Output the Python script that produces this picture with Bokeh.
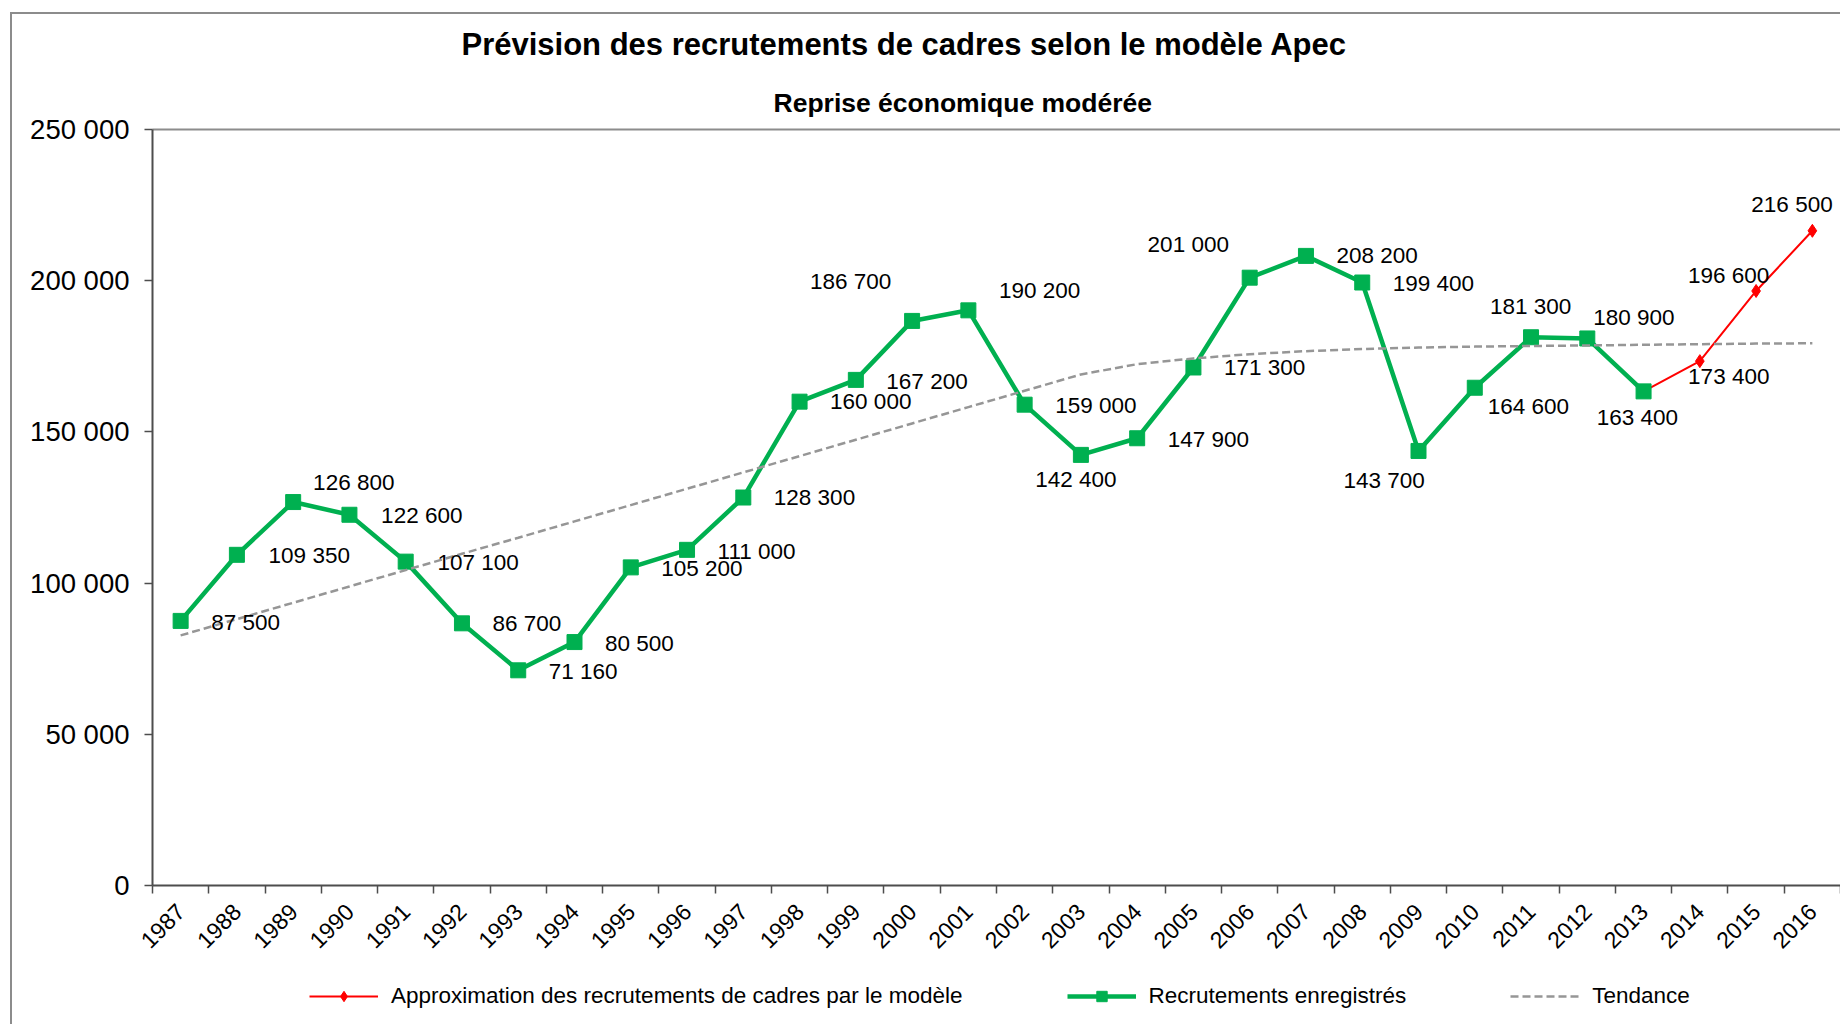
import math
from bokeh.plotting import figure
from bokeh.layouts import column
from bokeh.models import (Range1d, LinearAxis, FixedTicker, CustomJSTickFormatter,
                          Title, Legend, LegendItem, ColumnDataSource)
from bokeh.core.properties import value
from bokeh.embed import file_html
from bokeh.resources import INLINE

# ---------------- data ----------------
years = list(range(1987, 2017))
year_labels = [str(y) for y in years]

recorded_years = list(range(1987, 2014))
recorded = [87500, 109350, 126800, 122600, 107100, 86700, 71160, 80500, 105200,
            111000, 128300, 160000, 167200, 186700, 190200, 159000, 142400, 147900,
            171300, 201000, 208200, 199400, 143700, 164600, 181300, 180900, 163400]

model_years = [2013, 2014, 2015, 2016]
model = [163400, 173400, 196600, 216500]

trend = [82700, 88100, 93500, 98900, 104300, 109700, 115000, 120400, 125800, 131200,
         136600, 142000, 147400, 152800, 158200, 163600, 169000, 172400, 174300, 175700,
         176700, 177400, 177900, 178200, 178400, 178600, 178800, 179000, 179200, 179300]

y_ticks = [0, 50000, 100000, 150000, 200000, 250000]

title_text = "Prévision des recrutements de cadres selon le modèle Apec"
subtitle_text = "Reprise économique modérée"
legend_labels = ["Approximation des recrutements de cadres par le modèle",
                 "Recrutements enregistrés", "Tendance"]

# ---------------- label placement (screen px offsets) ----------------
S = 1.1735
rec_label_off = [(26, 1), (27, 1), (17, -17), (27, 1), (27, 1), (26, 0), (26, 1), (26, 1),
                 (26, 1), (26, 1), (26, 0), (26, 0), (26, 1), (-87, -34), (26, -17), (26, 1),
                 (-39, 21), (26, 1), (26, 0), (-87, -28), (26, 0), (26, 1), (-64, 25),
                 (11, 16), (-35, -26), (5, -18), (-40, 22)]
mod_label_off = [(-10, 13), (-58, -13), (-52, -22)]

FONT = "Liberation Sans"
GREEN = "#00B050"
RED = "#FF0000"
GREY = "#969696"
AXIS = "#4d4d4d"
BORDER = "#8c8c8c"


def fmt(v):
    return f"{v:,}".replace(",", " ")


W = 1840
H_MAIN = 960
H_LEG = 1024 - H_MAIN
LEFT = 152

p = figure(width=W, height=H_MAIN, output_backend="svg", toolbar_location=None,
           x_range=Range1d(-0.5, 29.5), y_range=Range1d(0, 250000),
           min_border_left=LEFT, min_border_right=0, min_border_top=129,
           min_border_bottom=H_MAIN - 885, x_axis_type=None, y_axis_type=None)
p.outline_line_color = None
p.background_fill_color = "white"
p.border_fill_color = None
p.styles = {"box-shadow": f"inset 10px 12px 0 0 white, inset 12px 14px 0 0 {BORDER}",
            "background-color": "white"}

# x axis
xax = LinearAxis(ticker=FixedTicker(ticks=list(range(len(years))),
                                    minor_ticks=[i - 0.5 for i in range(len(years) + 1)]),
                 formatter=CustomJSTickFormatter(args=dict(labels=year_labels),
                                                 code="return labels[Math.round(tick)] || '';"))
xax.axis_line_color = AXIS
xax.axis_line_width = 2
xax.major_tick_line_color = None
xax.major_tick_out = 0
xax.major_tick_in = 0
xax.minor_tick_line_color = AXIS
xax.minor_tick_line_width = 1.5
xax.minor_tick_out = 8
xax.minor_tick_in = 0
xax.major_label_orientation = math.pi / 4
xax.major_label_standoff = 14
xax.major_label_text_font = FONT
xax.major_label_text_font_size = "23px"
xax.major_label_text_color = "black"
p.add_layout(xax, "below")

# top frame line
top = LinearAxis(ticker=FixedTicker(ticks=[]))
top.axis_line_color = BORDER
top.axis_line_width = 2
top.major_tick_line_color = None
top.minor_tick_line_color = None
top.major_label_text_font_size = "0px"
top.major_label_standoff = 0
top.major_tick_out = 0
p.add_layout(top, "above")

# y axis
yax = LinearAxis(ticker=FixedTicker(ticks=y_ticks),
                 formatter=CustomJSTickFormatter(
                     code=r"return Math.round(tick).toString().replace(/\B(?=(\d{3})+(?!\d))/g, ' ');"))
yax.axis_line_color = AXIS
yax.axis_line_width = 2
yax.major_tick_line_color = AXIS
yax.major_tick_line_width = 1.5
yax.major_tick_out = 8
yax.major_tick_in = 0
yax.minor_tick_line_color = None
yax.major_label_standoff = 15
yax.major_label_text_font = FONT
yax.major_label_text_font_size = "27.5px"
yax.major_label_text_color = "black"
p.add_layout(yax, "left")

p.xgrid.visible = False
p.ygrid.visible = False

# series
x_rec = [y - 1987 for y in recorded_years]
x_mod = [y - 1987 for y in model_years]
x_all = [y - 1987 for y in years]

p.line(x_mod, model, line_color=RED, line_width=2)
p.scatter(x_mod, model, marker="diamond", size=13, fill_color=RED, line_color=RED)
p.line(x_rec, recorded, line_color=GREEN, line_width=4.5)
p.scatter(x_rec, recorded, marker="square", size=15, fill_color=GREEN, line_color=GREEN)
p.line(x_all, trend, line_color=GREY, line_width=2.5, line_dash="8 4")

# data labels
lab_x = x_rec + x_mod[1:]
lab_y = recorded + model[1:]
offs = rec_label_off + mod_label_off
src = ColumnDataSource(dict(x=lab_x, y=lab_y, t=[fmt(v) for v in lab_y],
                            dx=[o[0] * S for o in offs], dy=[o[1] * S for o in offs]))
p.text(x="x", y="y", text="t", x_offset="dx", y_offset="dy", source=src,
       text_align="left", text_baseline="middle", text_font=value(FONT),
       text_font_size="22.5px", text_color="black")

# titles (stacked above the frame)
p.add_layout(Title(text=subtitle_text, align="left", offset=621, text_font=FONT,
                   text_font_style="bold", text_font_size="26.5px", text_color="black",
                   standoff=24), "above")
p.add_layout(Title(text=title_text, align="left", offset=309, text_font=FONT,
                   text_font_style="bold", text_font_size="31px", text_color="black",
                   standoff=24), "above")

# legend strip: the same series drawn again (outside its visible range) as legend proxies
lg = figure(width=W, height=H_LEG, output_backend="svg", toolbar_location=None,
            x_range=Range1d(-1000, -999), y_range=Range1d(0, 1), min_border=0,
            x_axis_type=None, y_axis_type=None)
lg.outline_line_color = None
lg.background_fill_color = None
lg.border_fill_color = None
lg.xgrid.visible = False
lg.ygrid.visible = False
lg.styles = {"box-shadow": f"inset 10px 0 0 0 white, inset 12px 0 0 0 {BORDER}",
             "background-color": "white"}
r1 = lg.line(x_mod, model, line_color=RED, line_width=2)
r2 = lg.scatter(x_mod, model, marker="diamond", size=13, fill_color=RED, line_color=RED)
g1 = lg.line(x_rec, recorded, line_color=GREEN, line_width=4.5)
g2 = lg.scatter(x_rec, recorded, marker="square", size=15, fill_color=GREEN, line_color=GREEN)
t1 = lg.line(x_all, trend, line_color=GREY, line_width=2.5, line_dash="8 4")
legend = Legend(items=[LegendItem(label=legend_labels[0], renderers=[r1, r2]),
                       LegendItem(label=legend_labels[1], renderers=[g1, g2]),
                       LegendItem(label=legend_labels[2], renderers=[t1])],
                orientation="horizontal", location=(309 - LEFT, 15), padding=0,
                margin=0, spacing=104, glyph_width=69, glyph_height=26, label_height=26,
                label_standoff=13, label_text_font=FONT, label_text_font_size="22.5px",
                label_text_color="black", border_line_color=None,
                background_fill_alpha=0)
lg.add_layout(legend, "center")

layout = column(p, lg, spacing=0)
open("out.html", "w").write(file_html(layout, INLINE))
